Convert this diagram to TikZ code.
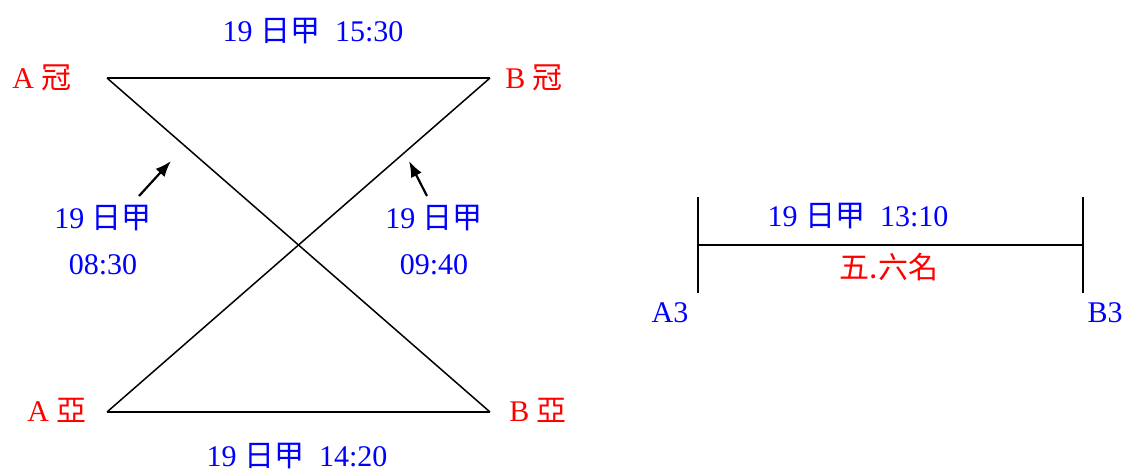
\documentclass[tikz,border=0pt]{standalone}
\usepackage{fontspec}
\setmainfont{Liberation Serif}
\newfontfamily\cjk{Noto Sans CJK TC}
\newcommand{\hanzi}[1]{{\cjk #1}}
\usepackage{xcolor}
\usepackage{tikz}
\usetikzlibrary{arrows.meta}
\tikzset{
    team/.style={text=red, font=\fontsize{30}{34}\selectfont, inner sep=0pt},
    timelbl/.style={text=blue, font=\fontsize{30}{34}\selectfont, inner sep=0pt},
    match/.style={draw=black, line width=1.5pt},
    pointer/.style={-{Latex[length=16pt,width=12pt]}, line width=2.2pt}
}

\begin{document}
\begin{tikzpicture}[x=1pt, y=-1pt]
    \useasboundingbox (0,0) rectangle (1126,471);
    % semifinal corners
    \coordinate (AG) at (107,78);
    \coordinate (BG) at (490,78);
    \coordinate (AY) at (107,412);
    \coordinate (BY) at (490,412);
    \node[team] (ag) at (42,78) {A \hanzi{冠}};
    \node[team] (bg) at (534,78) {B \hanzi{冠}};
    \node[team] (ay) at (57,410) {A \hanzi{亞}};
    \node[team] (by) at (538,410) {B \hanzi{亞}};
    \draw[match] (AG) -- (BG);
    \draw[match] (AY) -- (BY);
    \draw[match] (AG) -- (BY);
    \draw[match] (BG) -- (AY);
    \node[timelbl] (top) at (313,31) {19 \hanzi{日甲}\ \ 15:30};
    \node[timelbl] (bot) at (297,456) {19 \hanzi{日甲}\ \ 14:20};
    % cross matches
    \node[timelbl, align=center] (lt) at (103,240) {19 \hanzi{日甲}\\[12pt]08:30};
    \node[timelbl, align=center] (rt) at (434,240) {19 \hanzi{日甲}\\[12pt]09:40};
    \coordinate (lt0) at (139,196);
    \coordinate (lt1) at (171,161);
    \coordinate (rt0) at (427,196);
    \coordinate (rt1) at (409,161);
    \draw[pointer] (lt0) -- (lt1);
    \draw[pointer] (rt0) -- (rt1);
    % fifth place
    \coordinate (A3) at (698,245);
    \coordinate (B3) at (1083,245);
    \draw[match] ([yshift=-48]A3) -- ([yshift=48]A3);
    \draw[match] ([yshift=-48]B3) -- ([yshift=48]B3);
    \draw[match] (A3) -- (B3);
    \node[timelbl] (mid) at (858,216) {19 \hanzi{日甲}\ \ 13:10};
    \node[team] (five) at (889,267) {\hanzi{五.六名}};
    \node[timelbl] (a3) at (670,313) {A3};
    \node[timelbl] (b3) at (1105,313) {B3};
\end{tikzpicture}
\end{document}
